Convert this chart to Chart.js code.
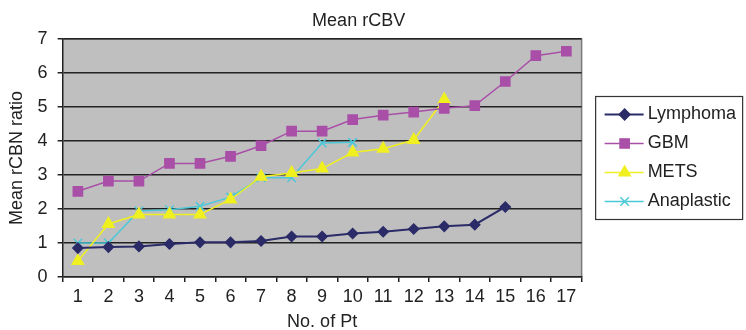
<!DOCTYPE html>
<html>
<head>
<meta charset="utf-8">
<script src="https://cdn.jsdelivr.net/npm/chart.js@4.4.1/dist/chart.umd.min.js"></script>
<style>
    html, body { margin: 0; padding: 0; background: #fff; }
    #wrap { width: 746px; height: 330px; }
</style>
</head>
<body>
<div id="wrap"><canvas id="chart" width="746" height="330"></canvas></div>
<script>
// Data
const patients = ['1', '2', '3', '4', '5', '6', '7', '8', '9', '10', '11', '12', '13', '14', '15', '16', '17'];
const lymphoma = [0.85, 0.88, 0.9, 0.97, 1.02, 1.02, 1.06, 1.19, 1.19, 1.28, 1.33, 1.41, 1.49, 1.54, 2.06];
const gbm = [2.52, 2.82, 2.82, 3.34, 3.34, 3.55, 3.86, 4.29, 4.29, 4.63, 4.76, 4.85, 4.96, 5.04, 5.75, 6.51, 6.64];
const mets = [0.47, 1.56, 1.84, 1.84, 1.84, 2.28, 2.95, 3.06, 3.19, 3.66, 3.77, 4.03, 5.22];
const anaplastic = [1.0, 1.0, 1.94, 1.98, 2.08, 2.35, 2.92, 2.92, 3.94, 3.96];
const yTicks = [0, 1, 2, 3, 4, 5, 6, 7];

const FONT = '"Liberation Sans", Arial, sans-serif';
const TEXT = '#222';

function series(label, data, color, pointStyle, radius, lineWidth) {
    return {
        label: label,
        data: data,
        borderColor: color,
        backgroundColor: color,
        pointBackgroundColor: color,
        pointBorderColor: color,
        pointStyle: pointStyle,
        pointRadius: radius,
        pointBorderWidth: 1.5,
        borderWidth: lineWidth,
        tension: 0,
        fill: false
    };
}

// Grey plot area plus the right border
const plotBackground = {
    id: 'plotBackground',
    beforeDraw(chart) {
        const { ctx, chartArea: a } = chart;
        ctx.save();
        ctx.fillStyle = '#bfbfbf';
        ctx.fillRect(a.left, a.top, a.right - a.left, a.bottom - a.top);
        ctx.strokeStyle = '#7a7a7a';
        ctx.lineWidth = 1.5;
        ctx.beginPath();
        ctx.moveTo(a.left, a.top);
        ctx.lineTo(a.right, a.top);
        ctx.lineTo(a.right, a.bottom);
        ctx.stroke();
        ctx.restore();
    }
};

// Title sits a little right of the plot centre, as in the original
const chartTitle = {
    id: 'chartTitle',
    afterDraw(chart) {
        const ctx = chart.ctx;
        ctx.save();
        ctx.font = '18px ' + FONT;
        ctx.fillStyle = TEXT;
        ctx.textAlign = 'center';
        ctx.textBaseline = 'middle';
        ctx.fillText('Mean rCBV', chart.chartArea.right - 223, 21);
        ctx.restore();
    }
};

// Legend samples (line + marker) and the framed box
const legendFrame = {
    id: 'legendFrame',
    afterDraw(chart) {
        const legend = chart.legend;
        if (!legend || !legend.legendHitBoxes.length) return;
        const ctx = chart.ctx;
        const boxes = legend.legendHitBoxes;
        const boxW = legend.options.labels.boxWidth;
        const half = legend.options.labels.font.size / 2;
        ctx.save();
        boxes.forEach((hb, i) => {
            const ds = chart.data.datasets[i];
            const textX = hb.left + boxW + half;
            const cy = hb.top + hb.height / 2;
            ctx.strokeStyle = ds.borderColor;
            ctx.fillStyle = ds.backgroundColor;
            ctx.lineWidth = ds.borderWidth;
            ctx.beginPath();
            ctx.moveTo(textX - 43, cy);
            ctx.lineTo(textX - 4, cy);
            ctx.stroke();
            Chart.helpers.drawPoint(ctx, {
                pointStyle: ds.pointStyle,
                radius: ds.pointRadius,
                rotation: 0,
                borderWidth: ds.pointBorderWidth
            }, textX - 23, cy);
        });
        const first = boxes[0];
        const last = boxes[boxes.length - 1];
        const textX = first.left + boxW + half;
        const top = first.top + first.height / 2 - 18;
        const bottom = last.top + last.height / 2 + 18;
        ctx.strokeStyle = '#333';
        ctx.lineWidth = 1.2;
        ctx.strokeRect(textX - 52, top, 147, bottom - top);
        ctx.restore();
    }
};

const ctx = document.getElementById('chart').getContext('2d');
new Chart(ctx, {
    type: 'line',
    data: {
        labels: patients,
        datasets: [
            series('Lymphoma', lymphoma, '#2b2b68', 'rectRot', 5, 2),
            series('GBM', gbm, '#a94fa8', 'rect', 6.5, 1.5),
            series('METS', mets, '#f0f020', 'triangle', 6.5, 1.5),
            series('Anaplastic', anaplastic, '#4cc8d8', 'crossRot', 6, 1.5)
        ]
    },
    options: {
        responsive: false,
        animation: false,
        layout: { padding: { top: 39, right: 0, bottom: 1, left: 0 } },
        plugins: {
            title: { display: false },
            tooltip: { enabled: false },
            legend: {
                position: 'right',
                fullSize: false,
                labels: {
                    font: { family: FONT, size: 18 },
                    color: TEXT,
                    boxWidth: 46,
                    boxHeight: 18,
                    padding: 11,
                    generateLabels(chart) {
                        return chart.data.datasets.map((ds, i) => ({
                            text: ds.label,
                            fillStyle: 'rgba(0,0,0,0)',
                            strokeStyle: 'rgba(0,0,0,0)',
                            lineWidth: 0,
                            fontColor: TEXT,
                            datasetIndex: i,
                            hidden: false
                        }));
                    }
                }
            }
        },
        scales: {
            x: {
                type: 'category',
                offset: true,
                grid: {
                    offset: true,
                    drawOnChartArea: false,
                    tickLength: 5,
                    color: '#222',
                    lineWidth: 1.5
                },
                border: { color: '#222', width: 1.5 },
                ticks: {
                    font: { family: FONT, size: 18 },
                    color: TEXT,
                    padding: 4,
                    maxRotation: 0,
                    autoSkip: false
                },
                title: {
                    display: true,
                    text: 'No. of Pt',
                    font: { family: FONT, size: 18, lineHeight: 0.8 },
                    color: TEXT,
                    padding: { top: 3, bottom: 0 }
                }
            },
            y: {
                min: yTicks[0],
                max: yTicks[yTicks.length - 1],
                afterBuildTicks(scale) {
                    scale.ticks = yTicks.map(v => ({ value: v }));
                },
                grid: {
                    color: '#222',
                    lineWidth: 1.5,
                    tickLength: 5
                },
                border: { color: '#222', width: 1.5 },
                ticks: {
                    font: { family: FONT, size: 18 },
                    color: TEXT,
                    padding: 10
                },
                title: {
                    display: true,
                    text: 'Mean rCBN ratio',
                    font: { family: FONT, size: 18 },
                    color: TEXT,
                    padding: { top: 6, bottom: 0 }
                }
            }
        }
    },
    plugins: [plotBackground, chartTitle, legendFrame]
});
</script>
</body>
</html>
